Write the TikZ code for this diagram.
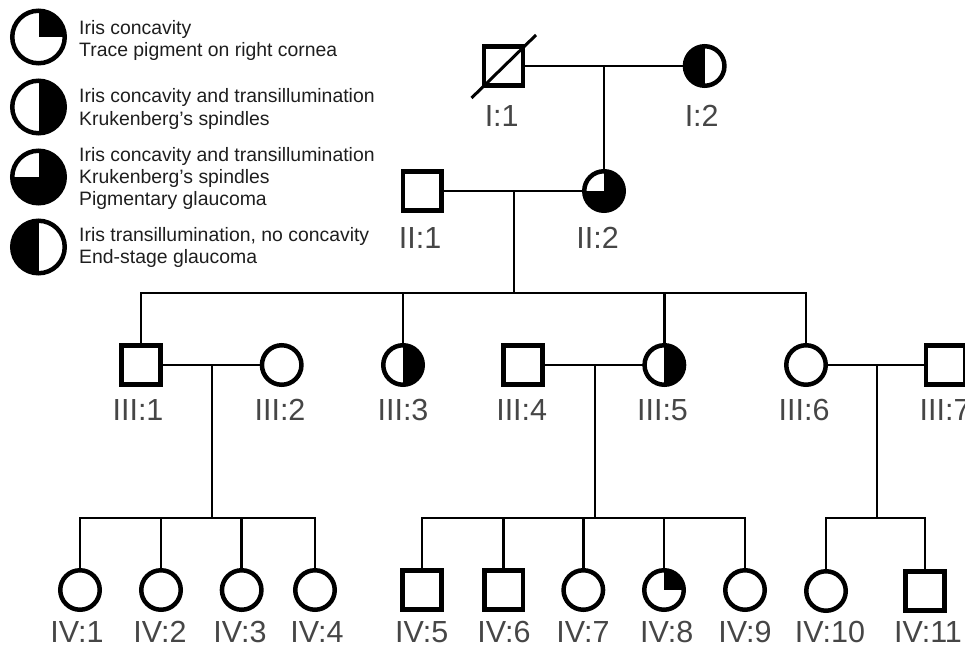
\documentclass[tikz,border=0pt]{standalone}
\usepackage{fontspec}
\setmainfont{Liberation Sans}
\definecolor{labgray}{RGB}{70,70,70}
\definecolor{legtext}{RGB}{30,30,30}
\begin{document}
\begin{tikzpicture}[x=1pt,y=-1pt,
  fem/.style={circle,draw,line width=4.5pt,minimum size=39.5pt,inner sep=0pt},
  mal/.style={rectangle,draw,line width=4.5pt,minimum size=38.8pt,inner sep=0pt},
  legsym/.style={circle,draw,line width=4.5pt,minimum size=52.5pt,inner sep=0pt},
  halfR/.style={path picture={\fill (path picture bounding box.south) rectangle (path picture bounding box.north east);}},
  halfL/.style={path picture={\fill (path picture bounding box.south west) rectangle (path picture bounding box.north);}},
  quartUR/.style={path picture={\fill (path picture bounding box.center) rectangle (path picture bounding box.north east);}},
  threeQ/.style={path picture={\fill (path picture bounding box.south west) rectangle (path picture bounding box.east);
                               \fill (path picture bounding box.center) rectangle (path picture bounding box.north east);}},
  conn/.style={line width=2.7pt,line cap=rect},
  lab/.style={anchor=base,text=labgray,font=\fontsize{30.5}{31}\selectfont,inner sep=0pt},
  legt/.style={anchor=base west,text=legtext,font=\fontsize{19.4}{22}\selectfont,inner sep=0pt}
]
\useasboundingbox (0,0) rectangle (965,645);

% ---------- legend ----------
\node[legsym,quartUR] (leg1) at (38.5,37) {};
\node[legsym,halfR]   (leg2) at (38.5,107) {};
\node[legsym,threeQ]  (leg3) at (38.5,177) {};
\node[legsym,halfL]   (leg4) at (38.5,247) {};
\node[legt] (t11) at (79,34.3) {Iris concavity};
\node[legt] (t12) at (79,56.7) {Trace pigment on right cornea};
\node[legt] (t21) at (79,102.7) {Iris concavity and transillumination};
\node[legt] (t22) at (79,125) {Krukenberg's spindles};
\node[legt] (t31) at (79,161.7) {Iris concavity and transillumination};
\node[legt] (t32) at (79,183.3) {Krukenberg's spindles};
\node[legt] (t33) at (79,205) {Pigmentary glaucoma};
\node[legt] (t41) at (79,241.7) {Iris transillumination, no concavity};
\node[legt] (t42) at (79,263.3) {End-stage glaucoma};

% ---------- generation I ----------
\node[mal] (I1) at (503.5,66) {};
\node[fem,halfL] (I2) at (704.7,66) {};
\draw[line width=3pt] ([shift={(-32,32)}]I1.center) -- ([shift={(32.5,-31)}]I1.center);
\node[lab] (lI1) at (501.7,126.7) {I:1};
\node[lab] (lI2) at (701.7,126.7) {I:2};

% ---------- generation II ----------
\node[mal] (II1) at (422.3,191) {};
\node[fem,threeQ] (II2) at (604,191) {};
\node[lab] (lII1) at (420,248) {II:1};
\node[lab] (lII2) at (597.5,248) {II:2};

% ---------- generation III ----------
\node[mal] (III1) at (141,365) {};
\node[fem] (III2) at (281.7,365) {};
\node[fem,halfR] (III3) at (403,365) {};
\node[mal] (III4) at (523,365) {};
\node[fem,halfR] (III5) at (664.3,365) {};
\node[fem] (III6) at (806,365) {};
\node[mal] (III7) at (945.5,365) {};
\node[lab] at (138,420) {III:1};
\node[lab] at (280,420) {III:2};
\node[lab] at (403,420) {III:3};
\node[lab] at (521.7,420) {III:4};
\node[lab] at (662.5,420) {III:5};
\node[lab] at (804,420) {III:6};
\node[lab] at (945,420) {III:7};

% ---------- generation IV ----------
\node[fem] (IV1) at (80,590) {};
\node[fem] (IV2) at (161,590) {};
\node[fem] (IV3) at (241.7,590) {};
\node[fem] (IV4) at (315,590) {};
\node[mal] (IV5) at (422,590) {};
\node[mal] (IV6) at (503.7,590) {};
\node[fem] (IV7) at (583.3,590) {};
\node[fem,quartUR] (IV8) at (664,590) {};
\node[fem] (IV9) at (745,590) {};
\node[fem] (IV10) at (826,591) {};
\node[mal] (IV11) at (925,591) {};
\node[lab] at (77,642) {IV:1};
\node[lab] at (160,642) {IV:2};
\node[lab] at (240,642) {IV:3};
\node[lab] at (317,642) {IV:4};
\node[lab] at (421.7,642) {IV:5};
\node[lab] at (504,642) {IV:6};
\node[lab] at (583,642) {IV:7};
\node[lab] at (666.7,642) {IV:8};
\node[lab] at (745,642) {IV:9};
\node[lab] at (830,642) {IV:10};
\node[lab] at (928,642) {IV:11};

% ---------- connectors ----------
\coordinate (m1) at (604,66);
\coordinate (m2) at (514,191);
\coordinate (s2) at (514,293);
\coordinate (m3) at (212,365);
\coordinate (s3a) at (212,518);
\coordinate (m4) at (595,366);
\coordinate (s3b) at (595,518);
\coordinate (m5) at (877,366);
\coordinate (s3c) at (877,518);

\draw[conn] (I1.east) -- (I2.west);
\draw[conn] (m1) -- (II2.north);
\draw[conn] (II1.east) -- (II2.west);
\draw[conn] (m2) -- (s2);
\draw[conn] (III1.north) -- (III1.north |- s2) -- (III6.north |- s2) -- (III6.north);
\draw[conn] (III3.north |- s2) -- (III3.north);
\draw[conn] (III5.north |- s2) -- (III5.north);

\draw[conn] (III1.east) -- (III2.west);
\draw[conn] (m3) -- (s3a);
\draw[conn] (IV1.north) -- (IV1.north |- s3a) -- (IV4.north |- s3a) -- (IV4.north);
\draw[conn] (IV2.north |- s3a) -- (IV2.north);
\draw[conn] (IV3.north |- s3a) -- (IV3.north);

\draw[conn] (III4.east) -- (III5.west);
\draw[conn] (m4) -- (s3b);
\draw[conn] (IV5.north) -- (IV5.north |- s3b) -- (IV9.north |- s3b) -- (IV9.north);
\draw[conn] (IV6.north |- s3b) -- (IV6.north);
\draw[conn] (IV7.north |- s3b) -- (IV7.north);
\draw[conn] (IV8.north |- s3b) -- (IV8.north);

\draw[conn] (III6.east) -- (III7.west);
\draw[conn] (m5) -- (s3c);
\draw[conn] (IV10.north) -- (IV10.north |- s3c) -- (IV11.north |- s3c) -- (IV11.north);
\end{tikzpicture}
\end{document}
